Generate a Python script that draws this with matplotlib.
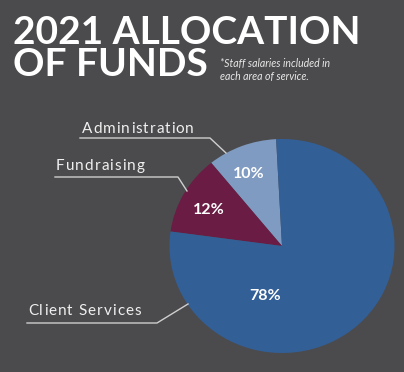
import matplotlib.pyplot as plt

labels = ['Administration', 'Fundraising', 'Client Services']
shares = [10, 12, 78]
colors = ['#7f9bc2', '#6a1c44', '#335f97']

W, H = 404, 372
bg = '#4b4b4d'

fig = plt.figure(figsize=(W / 100, H / 100), dpi=100, facecolor=bg)

# pie is slightly squashed vertically in the original, so use a unit pie
# on an axes with unequal scales
cx, cy, rx, ry = 282, 246, 112.5, 107
pax = fig.add_axes([0, 0, 1, 1])
pax.pie(shares, colors=colors, startangle=93, counterclock=True,
        wedgeprops=dict(linewidth=0))
pax.set_aspect('auto')
pax.set_xlim(-cx / rx, (W - cx) / rx)
pax.set_ylim((cy - H) / ry, cy / ry)
pax.axis('off')

# overlay in pixel coordinates (y down)
ax = fig.add_axes([0, 0, 1, 1], facecolor='none')
ax.set_xlim(0, W)
ax.set_ylim(H, 0)
ax.axis('off')

renderer = fig.canvas.get_renderer()


def tracked(x, y, s, spacing, **kw):
    # draw text one letter at a time with extra letter spacing (pixels)
    for ch in s:
        if ch == ' ':
            a = ax.text(0, 0, 'a a', **kw)
            b = ax.text(0, 0, 'aa', **kw)
            w = a.get_window_extent(renderer).width - b.get_window_extent(renderer).width
            a.remove()
            b.remove()
        else:
            t = ax.text(x, y, ch, **kw)
            w = t.get_window_extent(renderer).width
        x += w + spacing


# percentage labels
pct_pos = [(249, 174), (209, 210), (265, 296)]
for s, (x, y) in zip(shares, pct_pos):
    ax.text(x, y, f'{s}%', color='white', fontsize=11.5, fontweight='bold',
            family='Lato', ha='center', va='center')

# callout labels with leader lines
callouts = [
    ('Administration', 82, 129, [(80, 138), (210, 138), (226, 153)]),
    ('Fundraising', 56, 166, [(55, 177), (178, 177), (187, 191)]),
    ('Client Services', 28, 311, [(27, 323), (157, 323), (188, 304)]),
]
for name, tx, ty, pts in callouts:
    tracked(tx, ty, name, 1.0, color='#f0f0f0', fontsize=11, family='Lato',
            ha='left', va='center')
    ax.plot([p[0] for p in pts], [p[1] for p in pts], color='#cfcfcf', lw=1)

# title (tight leading as in the original)
fig.text(13 / W, 1 - 33 / H, '2021 ALLOCATION', color='white', fontsize=28,
         fontweight='bold', family='Lato', ha='left', va='center')
fig.text(13 / W, 1 - 65 / H, 'OF FUNDS', color='white', fontsize=28,
         fontweight='bold', family='Lato', ha='left', va='center')
fig.text(220 / W, 1 - 70 / H, '*Staff salaries included in\neach area of service.',
         color='#e8e8e8', fontsize=7.6, style='italic', family='Lato',
         ha='left', va='center', linespacing=1.15)

fig.savefig('out.png', dpi=100, facecolor=bg)
